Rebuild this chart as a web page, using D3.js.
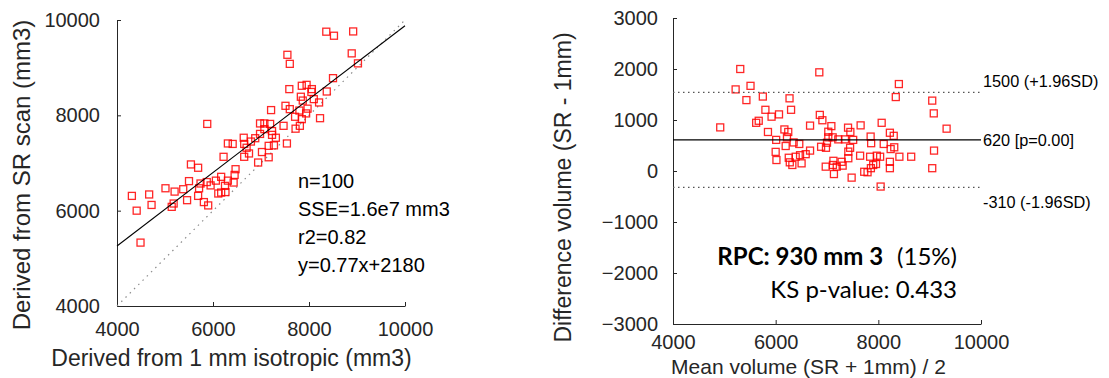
<!DOCTYPE html>
<html>
<head>
<meta charset="utf-8">
<script src="https://cdn.jsdelivr.net/npm/d3@7"></script>
<style>
  body { margin: 0; background: #fff; }
  svg { display: block; font-family: "Liberation Sans", Arial, sans-serif; }
</style>
</head>
<body>
<div id="chart"></div>
<script>
// Values (volumes in mm3)

// left panel: 1 mm isotropic vs SR scan
const isoVolume = [8360, 8520, 8920, 7550, 7600, 8890, 9020, 8500, 7950, 7850,
    7590, 8060, 8050, 8370, 7830, 8100, 7870, 8210, 7510, 7600,
    7210, 7800, 7970, 7940, 7710, 7850, 8230, 5880, 6980, 7070,
    7190, 7470, 7810, 7720, 7070, 7230, 6980, 7230, 7310, 6640,
    6880, 6790, 6310, 6410, 6650, 7540, 6700, 7160, 7270, 7020,
    6750, 6220, 6650, 7160, 6940, 5540, 5690, 6470, 6450, 6170,
    5010, 5500, 5740, 5870, 6060, 6310, 6430, 5950, 6250, 5380,
    5200, 5710, 6170, 6260, 6110, 4310, 4670, 5690, 5460, 5180,
    5140, 4720, 5810, 5900, 4410, 4490];
const srVolume = [9755, 9670, 9760, 9270, 9080, 9300, 9090, 8780, 8640, 8620,
    8550, 8550, 8490, 8500, 8390, 8340, 8310, 8270, 8200, 8130,
    8110, 8100, 8140, 8040, 7970, 7920, 7940, 7820, 7830, 7830,
    7820, 7780, 7780, 7720, 7710, 7670, 7610, 7590, 7530, 7530,
    7520, 7450, 7410, 7400, 7400, 7410, 7320, 7360, 7370, 7230,
    7200, 7130, 7130, 7120, 7010, 6970, 6900, 6870, 6750, 6710,
    6470, 6620, 6570, 6600, 6630, 6630, 6590, 6530, 6520, 6450,
    6400, 6470, 6380, 6390, 6360, 6310, 6340, 6310, 6220, 6150,
    6080, 6120, 6180, 6110, 6000, 5330];

// right panel: Bland-Altman
const meanVolume = [5310, 6850, 5220, 5510, 8400, 5430, 5750, 6270, 8340, 9050,
    5800, 6300, 9080, 5920, 6065, 6860, 5670, 5620, 6910, 4920,
    5850, 6170, 6245, 6670, 7085, 7410, 7655, 8065, 8225, 8300,
    9330, 6220, 6010, 6350, 6460, 6195, 7025, 7455, 7025, 7110,
    7220, 7350, 7510, 7850, 7860, 7000, 6885, 6980, 7450, 7415,
    8105, 8310, 8240, 6000, 6670, 6585, 6475, 6390, 6255, 7645,
    7840, 7970, 8410, 8640, 9085, 6015, 6275, 6325, 6505, 6975,
    7125, 7115, 7190, 7305, 7285, 7415, 7135, 7480, 7725, 7790,
    7855, 7900, 7955, 8035, 8225, 8225, 9050, 8045];
const diffVolume = [2000, 1935, 1600, 1670, 1705, 1390, 1460, 1425, 1450, 1380,
    1200, 1200, 1130, 1065, 1110, 1100, 985, 945, 995, 855,
    765, 815, 765, 890, 880, 850, 895, 945, 750, 690,
    830, 660, 610, 560, 530, 490, 770, 765, 660, 660,
    620, 620, 610, 675, 545, 555, 475, 455, 455, 380,
    530, 465, 430, 375, 400, 330, 310, 280, 260, 300,
    280, 300, 280, 280, 400, 215, 170, 118, 150, 85,
    200, 118, 85, 105, 180, 250, -60, -130, -15, -25,
    55, 118, 137, 280, 180, 55, 55, -305];

const volumeTicks = [4000, 6000, 8000, 10000];
const diffTicks = [-3000, -2000, -1000, 0, 1000, 2000, 3000];

const fitSlope = 0.77;
const fitIntercept = 2180;
const fitStats = ["n=100", "SSE=1.6e7 mm3", "r2=0.82", "y=0.77x+2180"];

const limitValues = [1540, 610, -320];
const limitLabels = ["1500 (+1.96SD)", "620 [p=0.00]", "-310 (-1.96SD)"];

const width = 1109;
const height = 378;
const ink = "#262626";

const svg = d3.select("#chart").append("svg")
    .attr("width", width)
    .attr("height", height);

// MATLAB-ish axis: ticks pointing inwards, grey-black ink
const styleAxis = g => {
    g.attr("font-size", 20).attr("font-family", null);
    g.select(".domain").attr("stroke", ink);
    g.selectAll(".tick line").attr("stroke", ink);
    g.selectAll(".tick text").attr("fill", ink);
};

const drawSquares = (g, xs, ys, x, y) => {
    g.append("g")
        .selectAll("rect")
        .data(xs.map((d, i) => [d, ys[i]]))
        .join("rect")
        .attr("x", d => x(d[0]) - 3.5)
        .attr("y", d => y(d[1]) - 3.5)
        .attr("width", 7)
        .attr("height", 7)
        .attr("fill", "none")
        .attr("stroke", "#ff0000")
        .attr("stroke-opacity", 0.85)
        .attr("stroke-width", 1.3);
};

// ---------- left panel ----------
const scatterPanel = () => {
    const x = d3.scaleLinear().domain([4000, 10000]).range([117, 405]);
    const y = d3.scaleLinear().domain([4000, 10000]).range([306, 20]);
    const g = svg.append("g");

    g.append("g")
        .attr("transform", "translate(0,306)")
        .call(d3.axisBottom(x).tickValues(volumeTicks).tickFormat(d3.format("d"))
            .tickSize(-4).tickSizeOuter(0).tickPadding(16))
        .call(styleAxis);

    g.append("g")
        .attr("transform", "translate(117,0)")
        .call(d3.axisLeft(y).tickValues(volumeTicks).tickFormat(d3.format("d"))
            .tickSize(-4).tickSizeOuter(0).tickPadding(17))
        .call(styleAxis);

    // identity line
    g.append("line")
        .attr("x1", x(4000)).attr("y1", y(4000))
        .attr("x2", x(10000)).attr("y2", y(10000))
        .attr("stroke", "#8c8c8c")
        .attr("stroke-width", 1.2)
        .attr("stroke-dasharray", "1.5,4.5");

    drawSquares(g, isoVolume, srVolume, x, y);

    // fitted line
    g.append("line")
        .attr("x1", x(4000)).attr("y1", y(fitSlope * 4000 + fitIntercept))
        .attr("x2", x(10000)).attr("y2", y(fitSlope * 10000 + fitIntercept))
        .attr("stroke", "#000")
        .attr("stroke-width", 1.1);

    g.append("g")
        .selectAll("text")
        .data(fitStats)
        .join("text")
        .attr("x", 298)
        .attr("y", (d, i) => 188 + i * 28)
        .attr("font-size", 20)
        .attr("fill", "#000")
        .text(d => d);

    g.append("text")
        .attr("x", 231.5)
        .attr("y", 366)
        .attr("text-anchor", "middle")
        .attr("font-size", 23)
        .attr("fill", ink)
        .text("Derived from 1 mm isotropic (mm3)");

    g.append("text")
        .attr("transform", "translate(30,175) rotate(-90)")
        .attr("text-anchor", "middle")
        .attr("font-size", 24)
        .attr("fill", ink)
        .text("Derived from SR scan (mm3)");
};

// ---------- right panel ----------
const blandAltmanPanel = () => {
    const x = d3.scaleLinear().domain([4000, 10000]).range([673, 981]);
    const y = d3.scaleLinear().domain([-3000, 3000]).range([324, 18]);
    const g = svg.append("g");

    g.append("g")
        .attr("transform", "translate(0,324)")
        .call(d3.axisBottom(x).tickValues(volumeTicks).tickFormat(d3.format("d"))
            .tickSize(-4).tickSizeOuter(0).tickPadding(11))
        .call(styleAxis);

    g.append("g")
        .attr("transform", "translate(673,0)")
        .call(d3.axisLeft(y).tickValues(diffTicks).tickFormat(d3.format("d"))
            .tickSize(-4).tickSizeOuter(0).tickPadding(15))
        .call(styleAxis);

    drawSquares(g, meanVolume, diffVolume, x, y);

    g.append("g")
        .selectAll("line")
        .data(limitValues)
        .join("line")
        .attr("x1", x(4000))
        .attr("x2", x(10000))
        .attr("y1", d => y(d))
        .attr("y2", d => y(d))
        .attr("stroke", (d, i) => i === 1 ? "#000" : "#555")
        .attr("stroke-width", (d, i) => i === 1 ? 1.1 : 1.3)
        .attr("stroke-dasharray", (d, i) => i === 1 ? null : "1.5,3.5");

    const labelShift = [-5, 6, 21];
    g.append("g")
        .selectAll("text")
        .data(limitLabels)
        .join("text")
        .attr("x", 983)
        .attr("y", (d, i) => y(limitValues[i]) + labelShift[i])
        .attr("font-size", 16.3)
        .attr("fill", "#000")
        .text(d => d);

    const rpc = g.append("text")
        .attr("x", 957)
        .attr("y", 265)
        .attr("text-anchor", "end")
        .attr("font-family", "Lato, 'Open Sans', sans-serif")
        .attr("font-size", 24)
        .attr("fill", "#000");
    rpc.append("tspan").attr("font-weight", "bold").text("RPC: 930 mm 3");
    rpc.append("tspan").attr("dx", 14).text("(15%)");

    g.append("text")
        .attr("x", 957)
        .attr("y", 298)
        .attr("text-anchor", "end")
        .attr("font-family", "Lato, 'Open Sans', sans-serif")
        .attr("font-size", 24)
        .attr("fill", "#000")
        .text("KS p-value: 0.433");

    g.append("text")
        .attr("x", 808.5)
        .attr("y", 373.5)
        .attr("text-anchor", "middle")
        .attr("font-size", 21)
        .attr("fill", ink)
        .text("Mean volume (SR + 1mm) / 2");

    g.append("text")
        .attr("transform", "translate(571,187.5) rotate(-90)")
        .attr("text-anchor", "middle")
        .attr("font-size", 23)
        .attr("fill", ink)
        .text("Difference volume (SR - 1mm)");
};

scatterPanel();
blandAltmanPanel();
</script>
</body>
</html>
